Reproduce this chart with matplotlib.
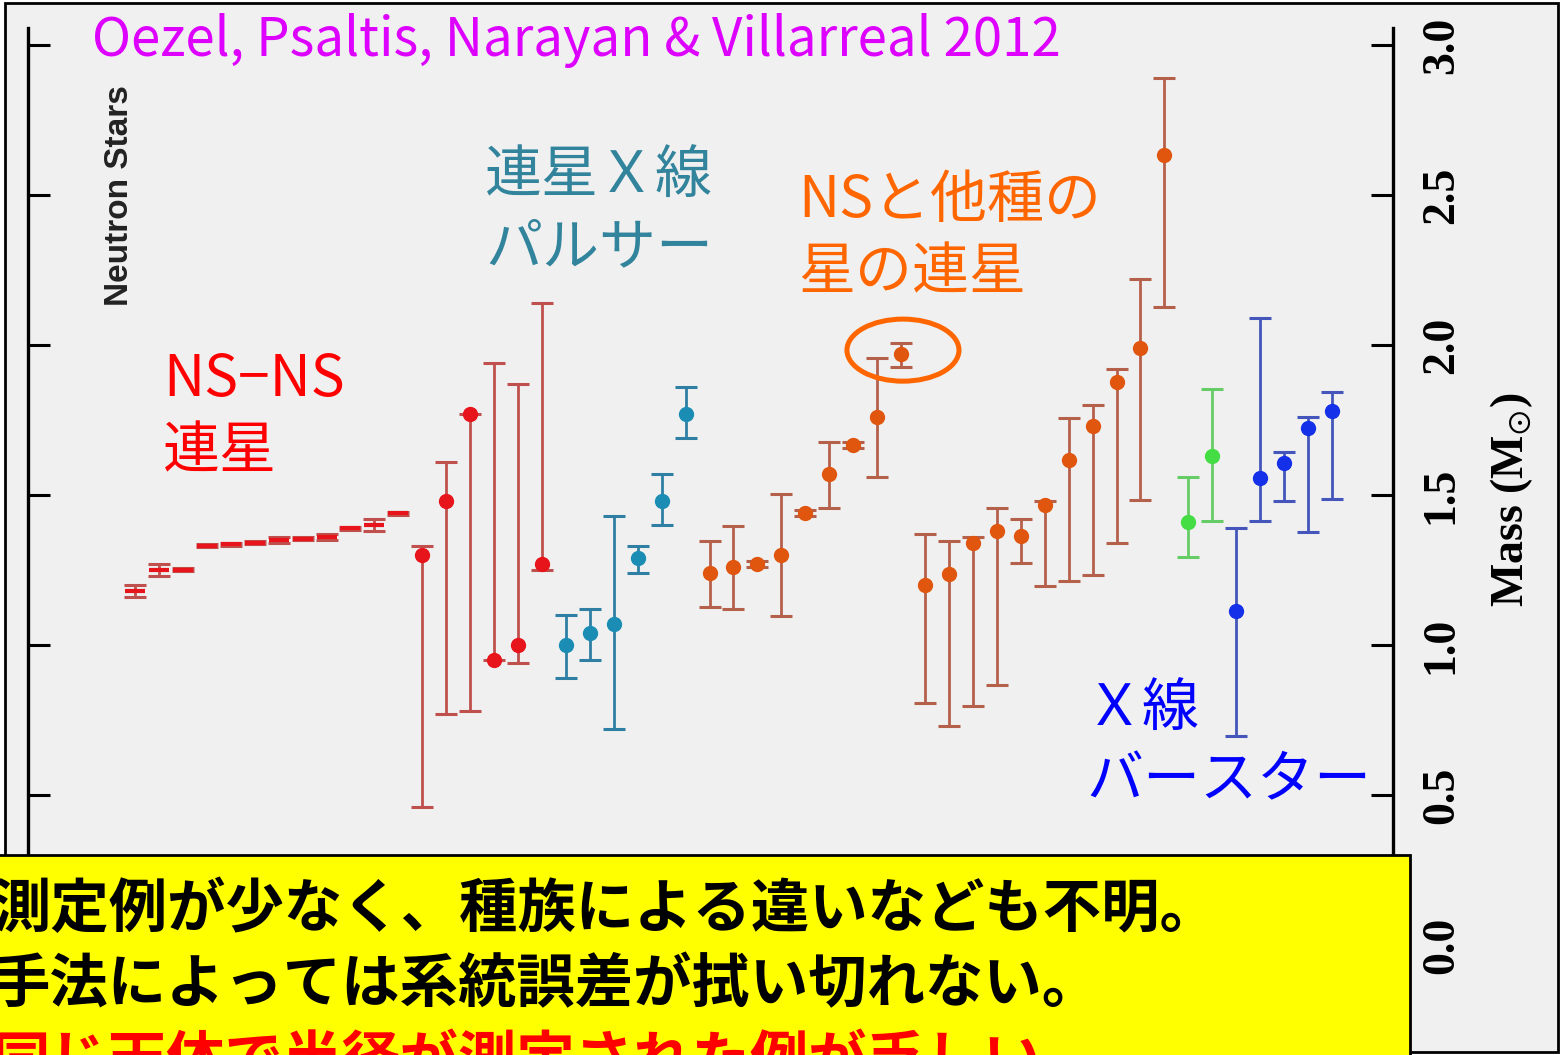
import numpy as np
import matplotlib
matplotlib.use("Agg")
import matplotlib.pyplot as plt
from matplotlib.patches import Rectangle, Ellipse

plt.rcParams['mathtext.fontset'] = 'stix'
JP = ['Noto Sans CJK JP', 'DejaVu Sans']

# masses (solar masses) and their error-bar ends
nsns_mass = [1.18, 1.25, 1.25, 1.33, 1.335, 1.34, 1.35, 1.355, 1.36, 1.39, 1.40, 1.44,
             1.30, 1.48, 1.77, 0.95, 1.00, 1.27]
nsns_low = [1.16, 1.23, 1.245, 1.325, 1.33, 1.335, 1.34, 1.35, 1.35, 1.385, 1.38, 1.435,
            0.46, 0.77, 0.78, 0.95, 0.94, 1.25]
nsns_high = [1.20, 1.27, 1.255, 1.335, 1.34, 1.345, 1.36, 1.36, 1.37, 1.395, 1.42, 1.445,
             1.33, 1.61, 1.77, 1.94, 1.87, 2.14]

bp_mass = [1.00, 1.04, 1.07, 1.29, 1.48, 1.77]
bp_low = [0.89, 0.95, 0.72, 1.24, 1.40, 1.69]
bp_high = [1.10, 1.12, 1.43, 1.33, 1.57, 1.86]

wd_mass = [1.24, 1.26, 1.27, 1.30, 1.44, 1.57, 1.667, 1.76, 1.97,
           1.20, 1.235, 1.34, 1.38, 1.365, 1.467, 1.617, 1.73, 1.877, 1.99, 2.633]
wd_low = [1.127, 1.12, 1.26, 1.097, 1.43, 1.457, 1.657, 1.56, 1.927,
          0.807, 0.73, 0.795, 0.868, 1.273, 1.197, 1.213, 1.233, 1.34, 1.483, 2.127]
wd_high = [1.347, 1.397, 1.28, 1.503, 1.45, 1.677, 1.677, 1.957, 2.007,
           1.37, 1.345, 1.36, 1.457, 1.42, 1.48, 1.757, 1.80, 1.92, 2.22, 2.89]

grn_mass = [1.41, 1.63]
grn_low = [1.293, 1.413]
grn_high = [1.56, 1.853]

xb_mass = [1.113, 1.557, 1.607, 1.723, 1.78]
xb_low = [0.697, 1.413, 1.48, 1.377, 1.487]
xb_high = [1.39, 2.09, 1.643, 1.76, 1.843]

yticks = [0.0, 0.5, 1.0, 1.5, 2.0, 2.5, 3.0]

W, H = 1563, 1055
fig = plt.figure(figsize=(W / 100, H / 100), dpi=100)
fig.patch.set_facecolor('white')

# grey panel and outer frame
fig.add_artist(Rectangle((5 / W, 3 / H), 1553 / W, 1049 / H, transform=fig.transFigure,
                         facecolor='#f0f0f0', edgecolor='black', lw=2, zorder=-1))

ax = fig.add_axes([28 / W, 3 / H, (1393 - 28) / W, (1052 - 28) / H])
ax.set_facecolor('none')
ax.set_xlim(-4.47, 52.55)
ax.set_ylim(-0.357, 3.057)


def draw(x0, mass, low, high, mcol, ecol, marker='o', ms=10):
    x = np.arange(len(mass)) + x0
    m = np.array(mass)
    err = [m - np.array(low), np.array(high) - m]
    ax.errorbar(x, m, yerr=err, fmt='none', ecolor=ecol, elinewidth=2, capsize=8,
                capthick=2.2, zorder=2)
    ax.plot(x, m, linestyle='none', marker=marker, ms=ms, color=mcol, mec=mcol,
            mew=3 if marker == '_' else 1, zorder=3)


draw(0, nsns_mass[:12], nsns_low[:12], nsns_high[:12], '#e8141c', '#c0504d', marker='_', ms=14)
draw(12, nsns_mass[12:], nsns_low[12:], nsns_high[12:], '#e8141c', '#c0504d')
draw(18, bp_mass, bp_low, bp_high, '#1b8db5', '#2e7fa3')
draw(24, wd_mass, wd_low, wd_high, '#e0560e', '#b5604a')
draw(44, grn_mass, grn_low, grn_high, '#44dd44', '#66cc66')
draw(46, xb_mass, xb_low, xb_high, '#1430e8', '#4455bb')

# highlighted 2 solar mass pulsar
ax.add_patch(Ellipse((32.08, 1.983), 4.68, 0.207, fill=False, edgecolor='#ff6600', lw=3.6, zorder=4))

for s in ['top', 'bottom']:
    ax.spines[s].set_visible(False)
for s in ['left', 'right']:
    ax.spines[s].set_linewidth(2.4)
ax.set_xticks([])
ax.set_yticks(yticks)
ax.set_yticklabels([f'{v:.1f}' for v in yticks])
ax.tick_params(axis='y', direction='in', length=16, width=2.2, left=True, right=True,
               labelleft=False, labelright=True, pad=20)
for lab in ax.get_yticklabels():
    lab.set_rotation(90)
    lab.set_family('Liberation Serif')
    lab.set_fontweight('bold')
    lab.set_fontsize(33)
    lab.set_va('center')

fig.text(1512 / W, 1 - 500 / H, r'Mass (M$_{\odot}$)', rotation=90, ha='center', va='center',
         family='Liberation Serif', fontweight='bold', fontsize=33)
fig.text(120 / W, 1 - 196 / H, 'Neutron Stars', rotation=90, ha='center', va='center',
         family='Liberation Sans', fontweight='bold', fontsize=24, color='#222222')

fig.text(92 / W, 1 - 40 / H, 'Oezel, Psaltis, Narayan & Villarreal 2012', family=JP,
         fontsize=38, color='#dd00ff', ha='left', va='center')
fig.text(163 / W, 1 - 416 / H, 'NS\u2212NS\n連星', family=JP, fontsize=41, color='#ff0000',
         ha='left', va='center', linespacing=1.3)
fig.text(485 / W, 1 - 212 / H, '連星Ｘ線\nパルサー', family=JP, fontsize=41, color='#31849b',
         ha='left', va='center', linespacing=1.3)
fig.text(798 / W, 1 - 237 / H, 'NSと他種の\n星の連星', family=JP, fontsize=41, color='#ff6600',
         ha='left', va='center', linespacing=1.3)
fig.text(1086 / W, 1 - 745 / H, 'Ｘ線\nバースター', family=JP, fontsize=41, color='#0000ff',
         ha='left', va='center', linespacing=1.3)

# yellow note box
fig.add_artist(Rectangle((-5 / W, -10 / H), 1415 / W, 210 / H, transform=fig.transFigure,
                         facecolor='#ffff00', edgecolor='black', lw=2, zorder=5))
fig.text(-8 / W, 1 - 910 / H, '測定例が少なく、種族による違いなども不明。', family=JP, fontsize=42,
         fontweight='bold', color='black', ha='left', va='center', zorder=6)
fig.text(-8 / W, 1 - 985 / H, '手法によっては系統誤差が拭い切れない。', family=JP, fontsize=42,
         fontweight='bold', color='black', ha='left', va='center', zorder=6)
fig.text(-8 / W, 1 - 1062 / H, '同じ天体で半径が測定された例が乏しい。', family=JP, fontsize=42,
         fontweight='bold', color='#ff0000', ha='left', va='center', zorder=6)

fig.savefig('out.png', dpi=100)
